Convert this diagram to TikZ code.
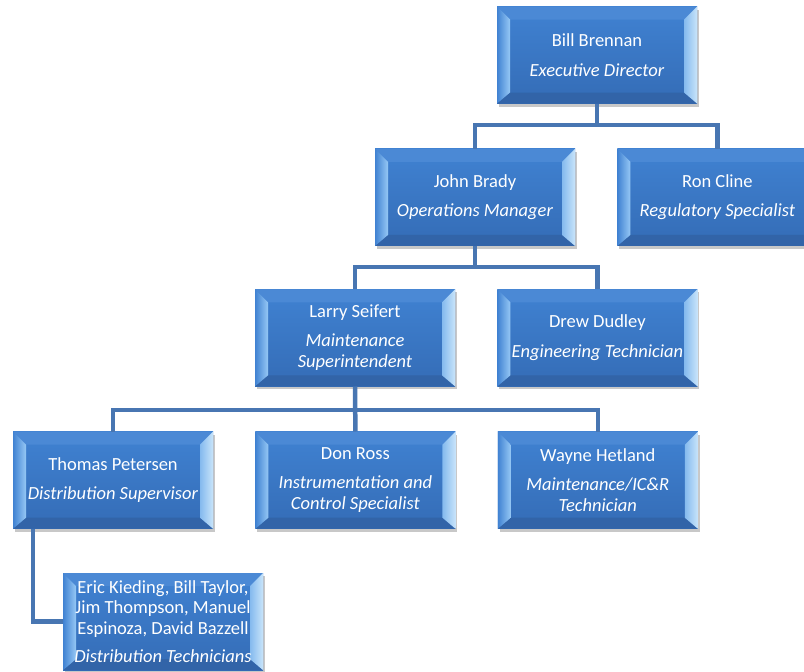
\documentclass[tikz,border=0pt]{standalone}
\usepackage{fontspec}
\setmainfont{Carlito}
\usepackage{tikz}
\usetikzlibrary{positioning,shadows,calc}
\definecolor{faceTop}{RGB}{64,130,210}
\definecolor{faceBot}{RGB}{52,108,182}
\definecolor{bevelLo}{RGB}{50,100,168}
\definecolor{bevelHi}{RGB}{150,200,245}
\definecolor{bevelEdge}{RGB}{200,228,250}
\definecolor{linkblue}{RGB}{72,118,178}
\tikzset{
  person/.style={rectangle, minimum width=200pt, minimum height=97pt, inner sep=0pt,
    align=center, text=white, font=\fontsize{18.5}{21.5}\selectfont,
    top color=faceTop, bottom color=faceBot,
    drop shadow={shadow xshift=2pt, shadow yshift=-3pt, opacity=0.3, fill=black!70},
    path picture={
      \coordinate (bvA) at (path picture bounding box.south west);
      \coordinate (bvB) at (path picture bounding box.south east);
      \coordinate (bvC) at (path picture bounding box.north east);
      \coordinate (bvD) at (path picture bounding box.north west);
      \coordinate (bva) at ([xshift=13pt,yshift=11pt]bvA);
      \coordinate (bvb) at ([xshift=-13pt,yshift=11pt]bvB);
      \coordinate (bvc) at ([xshift=-13pt,yshift=-13pt]bvC);
      \coordinate (bvd) at ([xshift=13pt,yshift=-13pt]bvD);
      % bevels
      \fill[faceTop!94!white] (bvD) -- (bvd) -- (bvc) -- (bvC) -- cycle;
      \fill[bevelLo] (bvA) -- (bvB) -- (bvb) -- (bva) -- cycle;
      \shade[left color=faceTop, right color=bevelHi] (bvA) -- (bva) -- (bvd) -- (bvD) -- cycle;
      \shade[left color=bevelHi!80!faceTop, right color=bevelEdge] (bvb) -- (bvB) -- (bvC) -- (bvc) -- cycle;
    }},
  link/.style={line width=4.5pt, draw=linkblue}
}

\begin{document}
\begin{tikzpicture}[x=1pt, y=-1pt]
  \useasboundingbox[fill=white] (0,0) rectangle (804,672);

  \node[person] (bill) at (597,55) {Bill Brennan\\[8pt]\textit{Executive Director}};
  \node[person, below=45pt of bill, xshift=-122pt] (john) {John Brady\\[8pt]\textit{Operations Manager}};
  \node[person, right=42pt of john] (ron) {Ron Cline\\[8pt]\textit{Regulatory Specialist}};
  \node[person, below=43pt of john, xshift=-120pt] (larry) {Larry Seifert\\[7pt]\textit{Maintenance}\\\textit{Superintendent}};
  \node[person, right=42pt of larry] (drew) {Drew Dudley\\[8pt]\textit{Engineering Technician}};
  \node[person, below=45pt of larry, xshift=-242pt] (thomas) {Thomas Petersen\\[8pt]\textit{Distribution Supervisor}};
  \node[person, right=42pt of thomas] (don) {Don Ross\\[7pt]\textit{Instrumentation and}\\\textit{Control Specialist}};
  \node[person, right=42pt of don] (wayne) {Wayne Hetland\\[7pt]\textit{Maintenance/IC\&R}\\\textit{Technician}};
  \node[person, below=44pt of thomas, xshift=50pt, font=\fontsize{18.5}{20.5}\selectfont] (techs)
    {Eric Kieding, Bill Taylor,\\Jim Thompson, Manuel\\Espinoza, David Bazzell\\[8pt]\textit{Distribution Technicians}};

  \coordinate (bus1) at (597,125);
  \coordinate (bus2) at (475,267);
  \coordinate (bus3) at (355,410);

  % top level
  \draw[link] (bill.south) -- (bus1);
  \draw[link] (john.north) |- (bus1) -| (ron.north);
  % operations
  \draw[link] (john.south) -- (bus2);
  \draw[link] (larry.north) |- (bus2) -| (drew.north);
  % maintenance
  \draw[link] (larry.south) -- (don.north);
  \draw[link] (thomas.north) |- (bus3) -| (wayne.north);
  % technicians
  \draw[link] ([xshift=20pt]thomas.south west) |- (techs.west);
\end{tikzpicture}
\end{document}
